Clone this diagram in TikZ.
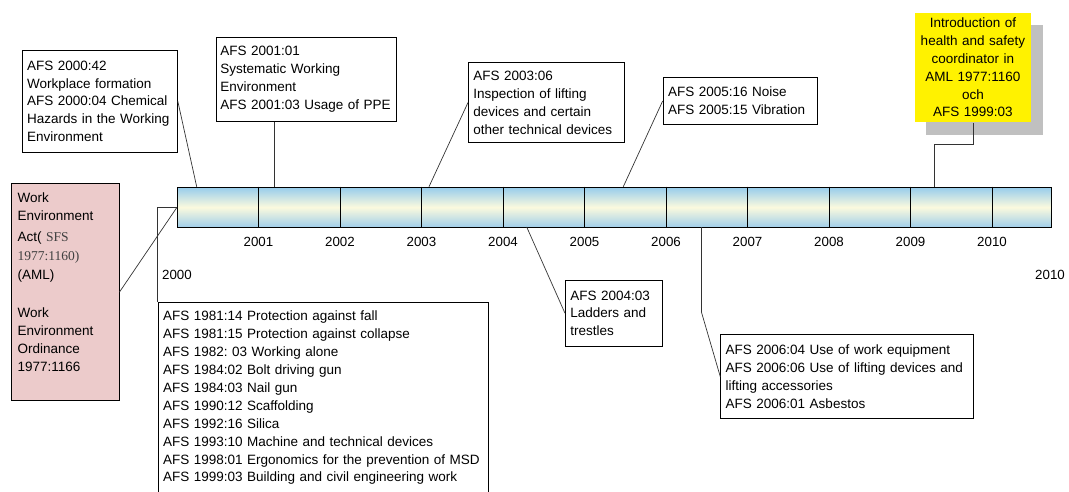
\documentclass[tikz,border=0pt]{standalone}
\usepackage{fontspec}
\setmainfont{Liberation Sans}
\newfontfamily\timesfont{Liberation Serif}
\usetikzlibrary{shadows}
\frenchspacing
\definecolor{barblue}{RGB}{150,204,236}
\definecolor{barbluedark}{RGB}{160,206,234}
\definecolor{barcream}{RGB}{251,250,222}
\definecolor{lawpink}{RGB}{236,203,203}
\definecolor{shadowgray}{RGB}{192,192,192}
\begin{document}
\begin{tikzpicture}[x=1pt, y=-1pt,
    note/.style={draw, line width=0.8pt, anchor=north west, align=left, inner xsep=5pt, inner ysep=3pt,
                 font=\fontsize{13.5}{17.9}\selectfont},
    year/.style={inner sep=0pt, font=\fontsize{13.3}{16}\selectfont},
    link/.style={draw=black!80, line width=0.7pt}]
            \useasboundingbox (0,0) rectangle (1069,491);
            \clip (0,0) rectangle (1069,491);

            % the time line
            \node[draw, line width=0.8pt, anchor=north west, inner sep=0pt, minimum width=873.7pt, minimum height=40.3pt,
                  top color=barblue, bottom color=barbluedark, middle color=barcream] (bar) at (177,186.7) {};
            \foreach \i in {1,...,10} {
                \draw[line width=0.7pt] (177+81.5*\i,186.7) -- (177+81.5*\i,227);
                \pgfmathtruncatemacro{\yr}{2000+\i}
                \node[year] (y\yr) at (177+81.5*\i,242) {\yr};
            }
            \node[year] (ystart) at (177,275) {2000};
            \node[year] (yend) at (1050,275) {2010};

            \coordinate (p2000) at (196.7,186.7);
            \coordinate (p2001) at (274,186.7);
            \coordinate (p2003) at (429,186.7);
            \coordinate (p2005) at (623.3,186.7);
            \coordinate (p2009) at (934,186.7);
            \coordinate (p2004) at (526.7,227);
            \coordinate (p2006) at (701.5,227);

            % boxes above the line
            \node[note, text width=145.3pt, minimum height=101.7pt] (b2000) at (21.7,50)
                {AFS 2000:42\\Workplace formation\\AFS 2000:04 Chemical\\Hazards in the Working\\Environment};
            \node[note, inner xsep=4pt, text width=172pt, minimum height=84.3pt] (b2001) at (216,36.7)
                {AFS 2001:01\\Systematic Working\\Environment\\AFS 2001:03 Usage of PPE};
            \node[note, text width=145.7pt, minimum height=80.3pt] (b2003) at (468,62)
                {AFS 2003:06\\Inspection of lifting\\devices and certain\\other technical devices};
            \node[note, text width=144.3pt, minimum height=47.6pt] (b2005) at (662.7,76.7)
                {AFS 2005:16 Noise\\AFS 2005:15 Vibration};
            \node[note, draw=none, fill=yellow, align=center, inner xsep=4pt, inner ysep=1pt, text width=108.4pt,
                  minimum height=109.4pt,
                  drop shadow={shadow xshift=11.7pt, shadow yshift=-12.7pt, fill=shadowgray, opacity=1}] (coord) at (914.3,12.3)
                {Introduction of\\health and safety\\coordinator in\\AML 1977:1160\\och\\AFS 1999:03};

            % boxes below the line
            \node[note, fill=lawpink, inner xsep=6pt, text width=95.4pt, minimum height=216.7pt] (law) at (11.3,183.3)
                {Work\\Environment\\[3pt]Act(\ {\timesfont\color{black!75}SFS}\\[1pt]{\timesfont\color{black!75}1977:1160)}\\[1pt](AML)\\[20pt]Work\\Environment\\Ordinance\\1977:1166\\[2pt]\mbox{}};
            \node[note, inner ysep=9pt, text width=320pt] (older) at (157.7,301.7)
                {AFS 1981:14 Protection against fall\\AFS 1981:15 Protection against collapse\\AFS 1982: 03 Working alone\\AFS 1984:02 Bolt driving gun\\AFS 1984:03 Nail gun\\AFS 1990:12 Scaffolding\\AFS 1992:16 Silica\\AFS 1993:10 Machine and technical devices\\AFS 1998:01 Ergonomics for the prevention of MSD\\AFS 1999:03 Building and civil engineering work\\\mbox{}};
            \node[note, text width=87.3pt, minimum height=65.7pt] (b2004) at (565,280)
                {AFS 2004:03\\Ladders and\\trestles};
            \node[note, text width=243pt, minimum height=84pt] (b2006) at (720.3,334.3)
                {AFS 2006:04 Use of work equipment\\AFS 2006:06 Use of lifting devices and\\lifting accessories\\AFS 2006:01 Asbestos};

            % connectors
            \draw[link] (b2000.east) -- (p2000);
            \draw[link] (b2001.south -| p2001) -- (p2001);
            \draw[link] (b2003.west) -- (p2003);
            \draw[link] (b2005.west) -- (p2005);
            \draw[link] (coord.south) -- ++(0,21.6) -| (p2009);
            \draw[link] (law.east) -- (bar.west);
            \draw[link] (older.north west) |- (bar.west);
            \draw[link] (p2004) -- (b2004.west);
            \draw[link] (p2006) -- ++(0,85.3) -- (b2006.west);
\end{tikzpicture}
\end{document}
